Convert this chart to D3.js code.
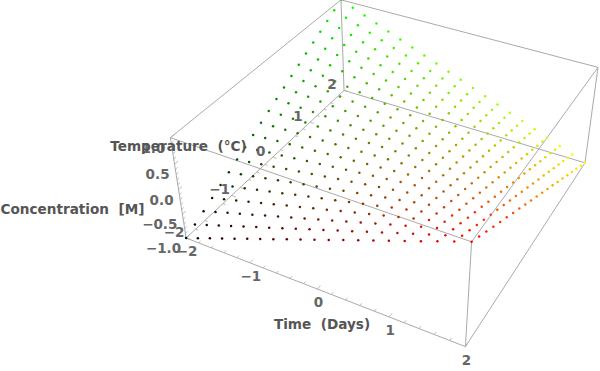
<!DOCTYPE html>
<html>
<head>
<meta charset="utf-8">
<script src="https://cdn.jsdelivr.net/npm/d3@7"></script>
<style>
  body { margin: 0; background: white; }
  text { font-family: "DejaVu Sans"; font-weight: bold; white-space: pre; }
</style>
</head>
<body>
<div id="container"></div>
<script>
let w = 600;
let h = 371;

// time (x) and temperature (y) values of the grid
let timeValues = [-2,-1.8,-1.6,-1.4,-1.2,-1,-0.8,-0.6,-0.4,-0.2,0,0.2,0.4,0.6,0.8,1,1.2,1.4,1.6,1.8,2];
let tempValues = [-2,-1.8,-1.6,-1.4,-1.2,-1,-0.8,-0.6,-0.4,-0.2,0,0.2,0.4,0.6,0.8,1,1.2,1.4,1.6,1.8,2];

// concentration, one row per temperature, one column per time
let concentration = [
  [-1,-0.9,-0.8,-0.7,-0.6,-0.5,-0.4,-0.3,-0.2,-0.1,0,0.1,0.2,0.3,0.4,0.5,0.6,0.7,0.8,0.9,1],
  [-0.9,-0.81,-0.72,-0.63,-0.54,-0.45,-0.36,-0.27,-0.18,-0.09,0,0.09,0.18,0.27,0.36,0.45,0.54,0.63,0.72,0.81,0.9],
  [-0.8,-0.72,-0.64,-0.56,-0.48,-0.4,-0.32,-0.24,-0.16,-0.08,0,0.08,0.16,0.24,0.32,0.4,0.48,0.56,0.64,0.72,0.8],
  [-0.7,-0.63,-0.56,-0.49,-0.42,-0.35,-0.28,-0.21,-0.14,-0.07,0,0.07,0.14,0.21,0.28,0.35,0.42,0.49,0.56,0.63,0.7],
  [-0.6,-0.54,-0.48,-0.42,-0.36,-0.3,-0.24,-0.18,-0.12,-0.06,0,0.06,0.12,0.18,0.24,0.3,0.36,0.42,0.48,0.54,0.6],
  [-0.5,-0.45,-0.4,-0.35,-0.3,-0.25,-0.2,-0.15,-0.1,-0.05,0,0.05,0.1,0.15,0.2,0.25,0.3,0.35,0.4,0.45,0.5],
  [-0.4,-0.36,-0.32,-0.28,-0.24,-0.2,-0.16,-0.12,-0.08,-0.04,0,0.04,0.08,0.12,0.16,0.2,0.24,0.28,0.32,0.36,0.4],
  [-0.3,-0.27,-0.24,-0.21,-0.18,-0.15,-0.12,-0.09,-0.06,-0.03,0,0.03,0.06,0.09,0.12,0.15,0.18,0.21,0.24,0.27,0.3],
  [-0.2,-0.18,-0.16,-0.14,-0.12,-0.1,-0.08,-0.06,-0.04,-0.02,0,0.02,0.04,0.06,0.08,0.1,0.12,0.14,0.16,0.18,0.2],
  [-0.1,-0.09,-0.08,-0.07,-0.06,-0.05,-0.04,-0.03,-0.02,-0.01,0,0.01,0.02,0.03,0.04,0.05,0.06,0.07,0.08,0.09,0.1],
  [0,0,0,0,0,0,0,0,0,0,0,0,0,0,0,0,0,0,0,0,0],
  [0.1,0.09,0.08,0.07,0.06,0.05,0.04,0.03,0.02,0.01,0,-0.01,-0.02,-0.03,-0.04,-0.05,-0.06,-0.07,-0.08,-0.09,-0.1],
  [0.2,0.18,0.16,0.14,0.12,0.1,0.08,0.06,0.04,0.02,0,-0.02,-0.04,-0.06,-0.08,-0.1,-0.12,-0.14,-0.16,-0.18,-0.2],
  [0.3,0.27,0.24,0.21,0.18,0.15,0.12,0.09,0.06,0.03,0,-0.03,-0.06,-0.09,-0.12,-0.15,-0.18,-0.21,-0.24,-0.27,-0.3],
  [0.4,0.36,0.32,0.28,0.24,0.2,0.16,0.12,0.08,0.04,0,-0.04,-0.08,-0.12,-0.16,-0.2,-0.24,-0.28,-0.32,-0.36,-0.4],
  [0.5,0.45,0.4,0.35,0.3,0.25,0.2,0.15,0.1,0.05,0,-0.05,-0.1,-0.15,-0.2,-0.25,-0.3,-0.35,-0.4,-0.45,-0.5],
  [0.6,0.54,0.48,0.42,0.36,0.3,0.24,0.18,0.12,0.06,0,-0.06,-0.12,-0.18,-0.24,-0.3,-0.36,-0.42,-0.48,-0.54,-0.6],
  [0.7,0.63,0.56,0.49,0.42,0.35,0.28,0.21,0.14,0.07,0,-0.07,-0.14,-0.21,-0.28,-0.35,-0.42,-0.49,-0.56,-0.63,-0.7],
  [0.8,0.72,0.64,0.56,0.48,0.4,0.32,0.24,0.16,0.08,0,-0.08,-0.16,-0.24,-0.32,-0.4,-0.48,-0.56,-0.64,-0.72,-0.8],
  [0.9,0.81,0.72,0.63,0.54,0.45,0.36,0.27,0.18,0.09,0,-0.09,-0.18,-0.27,-0.36,-0.45,-0.54,-0.63,-0.72,-0.81,-0.9],
  [1,0.9,0.8,0.7,0.6,0.5,0.4,0.3,0.2,0.1,0,-0.1,-0.2,-0.3,-0.4,-0.5,-0.6,-0.7,-0.8,-0.9,-1]
];

// tick values
let timeTicks = [-2,-1,0,1,2];
let tempTicks = [-2,-1,0,1,2];
let concTicks = [-1,-0.5,0,0.5,1];
let timeMinor = [-1.8,-1.6,-1.4,-1.2,-0.8,-0.6,-0.4,-0.2,0.2,0.4,0.6,0.8,1.2,1.4,1.6,1.8];
let tempMinor = [-1.8,-1.6,-1.4,-1.2,-0.8,-0.6,-0.4,-0.2,0.2,0.4,0.6,0.8,1.2,1.4,1.6,1.8];
let concMinor = [-0.9,-0.8,-0.7,-0.6,-0.4,-0.3,-0.2,-0.1,0.1,0.2,0.3,0.4,0.6,0.7,0.8,0.9];

// scales into the unit cube
let xScale = d3.scaleLinear().domain([-2, 2]).range([0, 1]);
let yScale = d3.scaleLinear().domain([-2, 2]).range([0, 1]);
let zScale = d3.scaleLinear().domain([-1, 1]).range([0, 1]);

// colours: time drives red, temperature drives green
let redScale = d3.scaleLinear().domain([-2, 2]).range([0, 255]);
let greenScale = d3.scaleLinear().domain([-2, 2]).range([0, 255]);

// where the 8 cube corners sit on screen, [u, v, w, px, py]. camera is fitted from these
let cubeCorners = [
  [0, 0, 0, 186.5, 238],
  [1, 0, 0, 465, 347],
  [0, 1, 0, 344, 90],
  [1, 1, 0, 585, 163],
  [0, 0, 1, 170, 138],
  [1, 0, 1, 472, 241],
  [0, 1, 1, 341, 0],
  [1, 1, 1, 598, 67.5]
];

// least squares fit of the 3x4 projection matrix (last entry = 1)
function fitCamera(corners){
  let A = [];
  let b = [];
  corners.forEach(function(c){
    let u = c[0], v = c[1], t = c[2], px = c[3], py = c[4];
    A.push([u, v, t, 1, 0, 0, 0, 0, -px*u, -px*v, -px*t]); b.push(px);
    A.push([0, 0, 0, 0, u, v, t, 1, -py*u, -py*v, -py*t]); b.push(py);
  });
  let n = 11;
  let M = d3.range(n).map(function(i){
    let row = d3.range(n).map(function(j){
      return d3.sum(A, function(r){ return r[i]*r[j]; });
    });
    row.push(d3.sum(A, function(r, k){ return r[i]*b[k]; }));
    return row;
  });
  for(let i = 0; i < n; i++){
    let piv = i;
    for(let k = i+1; k < n; k++){
      if(Math.abs(M[k][i]) > Math.abs(M[piv][i])) piv = k;
    }
    let tmp = M[i]; M[i] = M[piv]; M[piv] = tmp;
    for(let k = 0; k < n; k++){
      if(k == i) continue;
      let f = M[k][i]/M[i][i];
      for(let j = i; j <= n; j++) M[k][j] -= f*M[i][j];
    }
  }
  return M.map(function(row, i){ return row[n]/row[i]; });
}

let cam = fitCamera(cubeCorners);

function project(x, y, z){
  let u = xScale(x), v = yScale(y), t = zScale(z);
  let d = cam[8]*u + cam[9]*v + cam[10]*t + 1;
  return [
    (cam[0]*u + cam[1]*v + cam[2]*t + cam[3])/d,
    (cam[4]*u + cam[5]*v + cam[6]*t + cam[7])/d
  ];
}

let viz = d3.select("#container")
  .append("svg")
    .attr("width", w)
    .attr("height", h)
    .style("display", "block")
    .style("background-color", "white")
;

// the 12 box edges
let edges = [
  [[-2,-2,-1],[2,-2,-1]], [[-2,-2,-1],[-2,2,-1]], [[2,-2,-1],[2,2,-1]], [[-2,2,-1],[2,2,-1]],
  [[-2,-2,1],[2,-2,1]], [[-2,-2,1],[-2,2,1]], [[2,-2,1],[2,2,1]], [[-2,2,1],[2,2,1]],
  [[-2,-2,-1],[-2,-2,1]], [[2,-2,-1],[2,-2,1]], [[-2,2,-1],[-2,2,1]], [[2,2,-1],[2,2,1]]
];

let edgeGroup = viz.append("g").attr("class", "edges");
edgeGroup.selectAll("line").data(edges).enter().append("line")
  .attr("x1", function(d){ return project(d[0][0], d[0][1], d[0][2])[0]; })
  .attr("y1", function(d){ return project(d[0][0], d[0][1], d[0][2])[1]; })
  .attr("x2", function(d){ return project(d[1][0], d[1][1], d[1][2])[0]; })
  .attr("y2", function(d){ return project(d[1][0], d[1][1], d[1][2])[1]; })
  .attr("stroke", "#aaa")
  .attr("stroke-width", 1)
;

// ticks: start on the axis, step inside the box along one data direction
function drawTicks(values, start, step){
  viz.append("g").selectAll("line").data(values).enter().append("line")
    .attr("x1", function(d){ return project.apply(null, start(d))[0]; })
    .attr("y1", function(d){ return project.apply(null, start(d))[1]; })
    .attr("x2", function(d){ let s = start(d); return project(s[0]+step[0], s[1]+step[1], s[2]+step[2])[0]; })
    .attr("y2", function(d){ let s = start(d); return project(s[0]+step[0], s[1]+step[1], s[2]+step[2])[1]; })
    .attr("stroke", "#aaa")
    .attr("stroke-width", 0.8)
  ;
}

function timeStart(d){ return [d, -2, -1]; }
function tempStart(d){ return [-2, d, -1]; }
function concStart(d){ return [-2, -2, d]; }

drawTicks(timeTicks, timeStart, [0, 0.07, 0]);
drawTicks(timeMinor, timeStart, [0, 0.045, 0]);
drawTicks(tempTicks, tempStart, [0.07, 0, 0]);
drawTicks(tempMinor, tempStart, [0.045, 0, 0]);
drawTicks(concTicks, concStart, [0, 0.07, 0]);
drawTicks(concMinor, concStart, [0, 0.045, 0]);

// the points
let points = [];
tempValues.forEach(function(y, i){
  timeValues.forEach(function(x, j){
    points.push({x: x, y: y, z: concentration[i][j]});
  });
});

viz.append("g").attr("class", "points").selectAll("circle").data(points).enter().append("circle")
  .attr("cx", function(d){ return project(d.x, d.y, d.z)[0]; })
  .attr("cy", function(d){ return project(d.x, d.y, d.z)[1]; })
  .attr("r", 1.25)
  .attr("fill", function(d){
    return d3.rgb(redScale(d.x), greenScale(d.y), 0);
  })
;

// tick labels
function fmt(d){ return String(d).replace("-", "\u2212"); }

function tickLabels(values, start, dx, dy, anchor, format){
  viz.append("g").selectAll("text").data(values).enter().append("text")
    .text(format)
    .attr("x", function(d){ return project.apply(null, start(d))[0] + dx; })
    .attr("y", function(d){ return project.apply(null, start(d))[1] + dy; })
    .attr("text-anchor", anchor)
    .attr("font-size", "13.5px")
    .attr("fill", "#666")
  ;
}

tickLabels(timeTicks, timeStart, 1, 18, "middle", fmt);
tickLabels(tempTicks, tempStart, -12, -1, "middle", fmt);
tickLabels(concTicks, concStart, -5, 15, "end", function(d){ return fmt(d3.format(".1f")(d)); });

// axis titles
let titles = ["Time  (Days)", "Temperature  (\u00b0C)", "Concentration  [M]"];
let titleX = [322, 178.5, 72.5];
let titleY = [329, 151, 214];

viz.append("g").selectAll("text").data(titles).enter().append("text")
  .text(function(d){ return d; })
  .attr("x", function(d, i){ return titleX[i]; })
  .attr("y", function(d, i){ return titleY[i]; })
  .attr("text-anchor", "middle")
  .attr("font-size", "13.6px")
  .attr("fill", "#555")
;
</script>
</body>
</html>
